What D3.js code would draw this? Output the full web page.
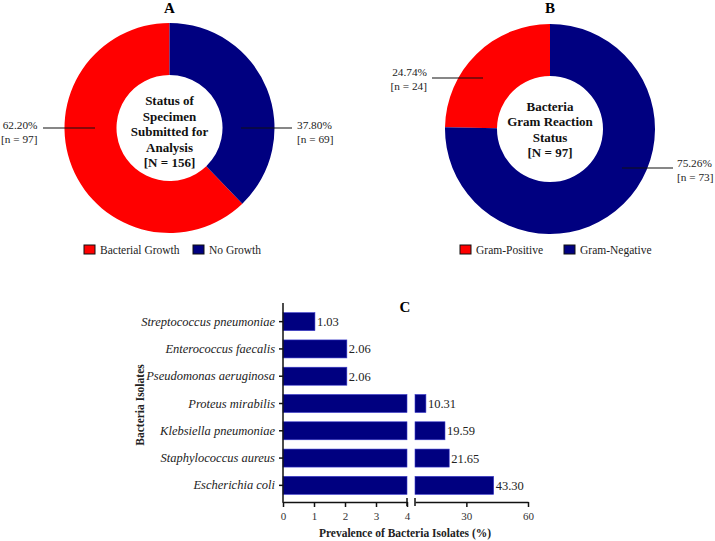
<!DOCTYPE html>
<html><head><meta charset="utf-8">
<script src="https://cdn.jsdelivr.net/npm/d3@7"></script>
<style>body{margin:0;background:#fff}svg{display:block}text{font-family:"Liberation Serif","Times New Roman",serif}</style>
</head><body><svg id="c" width="715" height="541"></svg>
<script>
// Panel A
const aCategories = ["Bacterial Growth", "No Growth"];
const aPercent = [62.20, 37.80];
const aCounts = [97, 69];
const aCenter = ["Status of", "Specimen", "Submitted for", "Analysis", "[N = 156]"];
// Panel B
const bCategories = ["Gram-Positive", "Gram-Negative"];
const bPercent = [24.74, 75.26];
const bCounts = [24, 73];
const bCenter = ["Bacteria", "Gram Reaction", "Status", "[N = 97]"];
// Panel C
const cCategories = ["Streptococcus pneumoniae", "Enterococcus faecalis", "Pseudomonas aeruginosa",
  "Proteus mirabilis", "Klebsiella pneumoniae", "Staphylococcus aureus", "Escherichia coli"];
const cValues = [1.03, 2.06, 2.06, 10.31, 19.59, 21.65, 43.30];
const cTicksLow = [0, 1, 2, 3, 4];
const cTicksHigh = [30, 60];

const colors = ["#ff0000", "#000080"];
const svg = d3.select("#c");

function donut(cfg) {
  const g = svg.append("g").attr("transform", `translate(${cfg.cx},${cfg.cy})`);
  const pie = d3.pie().sort(null).startAngle(0).endAngle(-2 * Math.PI);
  const arcs = pie(cfg.values);
  const arc = d3.arc().innerRadius(cfg.ri).outerRadius(cfg.ro);
  g.selectAll("path").data(arcs).join("path").attr("d", arc).attr("fill", (d, i) => colors[i]);
  // center text
  const n = cfg.center.length;
  g.selectAll("text.ct").data(cfg.center).join("text").attr("class", "ct")
    .attr("text-anchor", "middle").attr("font-weight", "bold").attr("font-size", 13)
    .attr("fill", "#111")
    .attr("y", (d, i) => (i - (n - 1) / 2) * 15.5 + cfg.cdy + 5).text(d => d);
  // labels
  cfg.labels.forEach((L, i) => {
    svg.append("line").attr("x1", L.lx1).attr("x2", L.lx2).attr("y1", L.ly).attr("y2", L.ly)
      .attr("stroke", "#111").attr("stroke-width", 1.1);
    const t = svg.append("text").attr("x", L.tx).attr("text-anchor", L.anchor)
      .attr("font-size", 11.3).attr("fill", "#222");
    t.append("tspan").attr("x", L.tx).attr("y", L.ty).text(cfg.values[L.idx].toFixed(2) + "%");
    t.append("tspan").attr("x", L.tx).attr("y", L.ty + 13.5).text(`[n = ${cfg.counts[L.idx]}]`);
  });
  // title
  svg.append("text").attr("x", cfg.cx).attr("y", 13).attr("text-anchor", "middle")
    .attr("font-weight", "bold").attr("font-size", 15).text(cfg.title);
  // legend
  cfg.legend.forEach((Lg, i) => {
    svg.append("rect").attr("x", Lg.x).attr("y", 245).attr("width", 11).attr("height", 9)
      .attr("fill", colors[i]).attr("stroke", "#111").attr("stroke-width", 1);
    svg.append("text").attr("x", Lg.x + 16).attr("y", 254).attr("font-size", 11.5).attr("fill", "#222")
      .text(cfg.cats[i]);
  });
}

donut({cx: 169.5, cy: 128, ro: 105, ri: 53, values: aPercent, counts: aCounts, cats: aCategories,
  center: aCenter, cdy: 3, title: "A",
  labels: [
    {idx: 0, lx1: 43, lx2: 95, ly: 128, tx: 37.5, ty: 129, anchor: "end"},
    {idx: 1, lx1: 241, lx2: 292, ly: 128, tx: 297, ty: 129, anchor: "start"}],
  legend: [{x: 84}, {x: 193}]});

donut({cx: 550, cy: 129, ro: 105, ri: 53, values: bPercent, counts: bCounts, cats: bCategories,
  center: bCenter, cdy: 0, title: "B",
  labels: [
    {idx: 0, lx1: 432, lx2: 483, ly: 78, tx: 427, ty: 76, anchor: "end"},
    {idx: 1, lx1: 622, lx2: 673, ly: 168, tx: 677, ty: 167, anchor: "start"}],
  legend: [{x: 460}, {x: 564}]});

// Panel C
const x1 = d3.scaleLinear().domain([0, 4]).range([283, 407]);
const x2 = d3.scaleLinear().domain([5, 60]).range([415, 528]);
const y = d3.scaleBand().domain(cCategories).range([308, 499]).paddingInner(0.34).paddingOuter(0.17);
const axisY = 502;
const gc = svg.append("g");

cCategories.forEach((c, i) => {
  const v = cValues[i];
  const yy = y(c), h = y.bandwidth();
  let endX;
  if (v <= 4) {
    gc.append("rect").attr("x", x1(0)).attr("y", yy).attr("width", x1(v) - x1(0)).attr("height", h)
      .attr("fill", "#000080").attr("stroke", "#3a3acc").attr("stroke-width", 0.6);
    endX = x1(v);
  } else {
    gc.append("rect").attr("x", x1(0)).attr("y", yy).attr("width", x1(4) - x1(0)).attr("height", h)
      .attr("fill", "#000080").attr("stroke", "#3a3acc").attr("stroke-width", 0.6);
    gc.append("rect").attr("x", x2(5)).attr("y", yy).attr("width", x2(v) - x2(5)).attr("height", h)
      .attr("fill", "#000080").attr("stroke", "#3a3acc").attr("stroke-width", 0.6);
    endX = x2(v);
  }
  gc.append("text").attr("x", endX + 2).attr("y", yy + h / 2 + 4.5).attr("font-size", 12.5)
    .attr("fill", "#222").text(v.toFixed(2));
});

// y axis
const yAxis = d3.axisLeft(y).tickSize(4).tickSizeOuter(0);
const gy = gc.append("g").attr("transform", `translate(283,0)`).call(yAxis);
gy.select(".domain").remove();
gy.selectAll(".tick line").attr("stroke", "#111").attr("stroke-width", 1.5);
gy.selectAll(".tick text").attr("font-family", "Liberation Serif").attr("font-style", "italic")
  .attr("font-size", 12.5).attr("fill", "#222").attr("dx", "-1");
gc.append("line").attr("x1", 283).attr("x2", 283).attr("y1", 303).attr("y2", axisY + 0.75)
  .attr("stroke", "#111").attr("stroke-width", 1.5);

// x axes (broken)
function xSeg(scale, ticks) {
  const g = gc.append("g").attr("transform", `translate(0,${axisY})`)
    .call(d3.axisBottom(scale).tickValues(ticks).tickSize(5).tickSizeOuter(0).tickFormat(d3.format("d")));
  g.select(".domain").attr("stroke", "#111").attr("stroke-width", 1.5);
  g.selectAll(".tick line").attr("stroke", "#111").attr("stroke-width", 1.5);
  g.selectAll(".tick text").attr("font-family", "Liberation Serif").attr("font-size", 11)
    .attr("fill", "#333").attr("dy", "0.9em");
  return g;
}
xSeg(x1, cTicksLow);
xSeg(x2, cTicksHigh);
// break caps
[x1(4), x2(5)].forEach(px => {
  gc.append("line").attr("x1", px).attr("x2", px).attr("y1", axisY - 4).attr("y2", axisY + 4)
    .attr("stroke", "#111").attr("stroke-width", 1.5);
});

// titles
svg.append("text").attr("x", 405).attr("y", 312).attr("text-anchor", "middle")
  .attr("font-weight", "bold").attr("font-size", 15).text("C");
svg.append("text").attr("x", 405).attr("y", 537).attr("text-anchor", "middle")
  .attr("font-weight", "bold").attr("font-size", 11.5).attr("fill", "#222")
  .text("Prevalence of Bacteria Isolates (%)");
svg.append("text").attr("transform", "translate(144,405) rotate(-90)").attr("text-anchor", "middle")
  .attr("font-weight", "bold").attr("font-size", 11.5).attr("fill", "#222").text("Bacteria Isolates");
</script></body></html>
